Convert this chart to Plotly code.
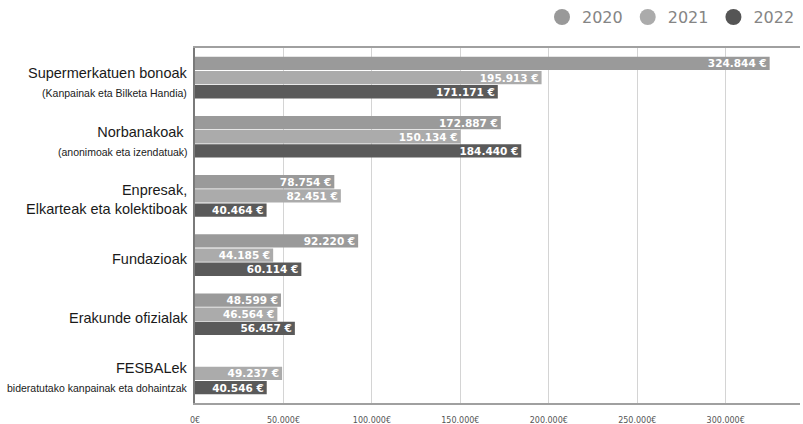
import plotly.graph_objects as go

categories = [
    "Supermerkatuen bonoak<br><span style='font-size:10.5px'>(Kanpainak eta Bilketa Handia)</span>",
    "Norbanakoak <br><span style='font-size:10.5px'>(anonimoak eta izendatuak)</span>",
    "Enpresak,<br>Elkarteak eta kolektiboak",
    "Fundazioak",
    "Erakunde ofizialak",
    "FESBALek<br><span style='font-size:10.5px'>bideratutako kanpainak eta dohaintzak</span>",
]
years = ["2020", "2021", "2022"]
values_2020 = [324844, 172887, 78754, 92220, 48599, None]
values_2021 = [195913, 150134, 82451, 44185, 46564, 49237]
values_2022 = [171171, 184440, 40464, 60114, 56457, 40546]
tick_values = [0, 50000, 100000, 150000, 200000, 250000, 300000]
tick_labels = ["0€", "50.000€", "100.000€", "150.000€", "200.000€", "250.000€", "300.000€"]

bar_colors = ["#9a9a9a", "#ababab", "#5a5a5a"]
legend_colors = ["#999999", "#ababab", "#555555"]


def fmt(v):
    return "" if v is None else f"{v:,}".replace(",", ".") + " €"


fig = go.Figure()
for name, vals, col in zip(years, [values_2020, values_2021, values_2022], bar_colors):
    fig.add_trace(go.Bar(
        y=categories, x=vals, orientation="h", name=name,
        marker=dict(color=col, line=dict(width=0)),
        text=[fmt(v) for v in vals], textposition="inside", insidetextanchor="end",
        textangle=0,
        textfont=dict(family="DejaVu Sans", size=10.5, color="white", weight="bold"),
        cliponaxis=False, showlegend=False, hoverinfo="skip",
    ))
for name, col in zip(years, legend_colors):
    fig.add_trace(go.Scatter(
        x=[None], y=[None], mode="markers", name=name,
        marker=dict(symbol="circle", size=16, color=col),
    ))

for cat in categories:
    fig.add_annotation(
        text=cat, y=cat, yref="y", x=0, xref="paper", xanchor="right", yanchor="middle",
        xshift=-5, yshift=-4, align="right", showarrow=False,
        font=dict(family="Liberation Sans", size=14.5, color="#1a1a1a"),
    )

fig.update_layout(
    width=803, height=424,
    margin=dict(l=195, r=3, t=48, b=21, autoexpand=False),
    paper_bgcolor="white", plot_bgcolor="white",
    barmode="group", bargap=0.28, bargroupgap=0.06,
    uniformtext=dict(minsize=10, mode="show"),
    legend=dict(orientation="h", x=1.0, xanchor="right", y=1.087, yanchor="middle",
                font=dict(family="DejaVu Sans", size=16, color="#858585"),
                traceorder="normal", itemwidth=30),
    xaxis=dict(range=[0, 342000], tickvals=tick_values, ticktext=tick_labels,
               showgrid=True, gridcolor="#d4d4d4", gridwidth=1, automargin=False,
               showline=True, linecolor="#a0a0a0", linewidth=2, mirror=True,
               zeroline=False, ticks="", ticklabelstandoff=8,
               tickfont=dict(family="DejaVu Sans", size=8, color="#555555")),
    yaxis=dict(autorange="reversed", showline=True, linecolor="#7a7a7a", linewidth=2,
               showgrid=False, ticks="", showticklabels=False, automargin=False),
)
fig.write_html("out.html", config={"displayModeBar": False},
               post_script="document.body.style.margin='0';")
